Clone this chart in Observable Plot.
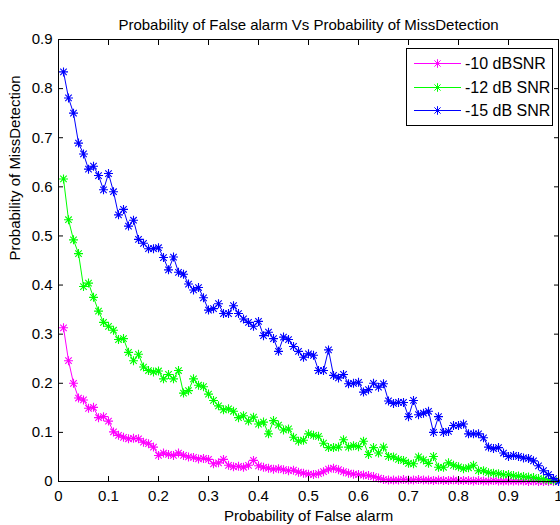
<!DOCTYPE html>
<html>
<head>
<meta charset="utf-8">
<script src="https://cdn.jsdelivr.net/npm/d3@7"></script>
<script src="https://cdn.jsdelivr.net/npm/@observablehq/plot@0.6"></script>
<style>
  html, body { margin: 0; padding: 0; background: #fff; }
  #wrap { position: relative; width: 560px; height: 525px; overflow: hidden; font-family: "Liberation Sans", Arial, sans-serif; }
  #legend { position: absolute; left: 406px; top: 48px; }
</style>
</head>
<body>
<div id="wrap"></div>
<script>
const pfa = [0.01,0.02,0.03,0.04,0.05,0.06,0.07,0.08,0.09,0.10,
  0.11,0.12,0.13,0.14,0.15,0.16,0.17,0.18,0.19,0.20,
  0.21,0.22,0.23,0.24,0.25,0.26,0.27,0.28,0.29,0.30,
  0.31,0.32,0.33,0.34,0.35,0.36,0.37,0.38,0.39,0.40,
  0.41,0.42,0.43,0.44,0.45,0.46,0.47,0.48,0.49,0.50,
  0.51,0.52,0.53,0.54,0.55,0.56,0.57,0.58,0.59,0.60,
  0.61,0.62,0.63,0.64,0.65,0.66,0.67,0.68,0.69,0.70,
  0.71,0.72,0.73,0.74,0.75,0.76,0.77,0.78,0.79,0.80,
  0.81,0.82,0.83,0.84,0.85,0.86,0.87,0.88,0.89,0.90,
  0.91,0.92,0.93,0.94,0.95,0.96,0.97,0.98,0.99,1.00];

const pmdMinus10 = [0.313,0.246,0.200,0.170,0.166,0.149,0.151,0.130,0.132,0.123,
  0.101,0.094,0.090,0.087,0.088,0.087,0.080,0.077,0.070,0.053,
  0.058,0.055,0.053,0.058,0.053,0.050,0.049,0.046,0.047,0.045,
  0.036,0.038,0.045,0.033,0.030,0.031,0.029,0.033,0.043,0.032,
  0.029,0.027,0.025,0.026,0.024,0.022,0.023,0.019,0.017,0.015,
  0.014,0.016,0.020,0.025,0.027,0.024,0.020,0.017,0.015,0.014,
  0.013,0.012,0.010,0.007,0.004,0.003,0.003,0.003,0.004,0.003,
  0.003,0.004,0.003,0.003,0.002,0.003,0.002,0.002,0.003,0.002,
  0.002,0.002,0.001,0.002,0.001,0.001,0.002,0.001,0.001,0.001,
  0.001,0.001,0.001,0.000,0.001,0.000,0.000,0.000,0.000,0.000];

const pmdMinus12 = [0.616,0.533,0.492,0.464,0.397,0.404,0.375,0.347,0.324,0.316,
  0.308,0.289,0.291,0.263,0.246,0.259,0.233,0.226,0.223,0.225,
  0.209,0.218,0.209,0.226,0.180,0.185,0.209,0.196,0.193,0.178,
  0.165,0.154,0.146,0.148,0.143,0.130,0.134,0.123,0.131,0.117,
  0.121,0.097,0.124,0.115,0.105,0.107,0.090,0.082,0.084,0.097,
  0.094,0.092,0.078,0.069,0.069,0.070,0.085,0.070,0.073,0.071,
  0.082,0.055,0.069,0.058,0.070,0.051,0.050,0.045,0.043,0.037,
  0.036,0.050,0.044,0.037,0.051,0.029,0.029,0.038,0.033,0.030,
  0.026,0.028,0.033,0.022,0.022,0.018,0.017,0.016,0.014,0.014,
  0.012,0.011,0.010,0.009,0.008,0.006,0.005,0.003,0.002,0.000];

const pmdMinus15 = [0.834,0.781,0.750,0.689,0.667,0.636,0.642,0.623,0.594,0.627,
  0.590,0.543,0.554,0.520,0.532,0.493,0.485,0.474,0.474,0.476,
  0.456,0.431,0.457,0.426,0.422,0.402,0.390,0.395,0.374,0.349,
  0.352,0.362,0.342,0.342,0.358,0.342,0.331,0.324,0.316,0.326,
  0.297,0.304,0.291,0.265,0.294,0.289,0.275,0.265,0.253,0.260,
  0.257,0.226,0.226,0.268,0.216,0.211,0.218,0.199,0.200,0.202,
  0.182,0.187,0.200,0.192,0.199,0.164,0.159,0.161,0.161,0.132,
  0.165,0.136,0.139,0.143,0.100,0.132,0.100,0.102,0.114,0.114,
  0.117,0.097,0.097,0.097,0.089,0.070,0.067,0.069,0.058,0.051,
  0.053,0.051,0.048,0.047,0.042,0.032,0.022,0.014,0.006,0.000];

const seriesNames = ["-10 dBSNR", "-12 dB SNR", "-15 dB SNR"];
const seriesColors = ["#ff00ff", "#00ff00", "#0000ff"];
const seriesValues = [pmdMinus10, pmdMinus12, pmdMinus15];

const xTicks = [0, 0.1, 0.2, 0.3, 0.4, 0.5, 0.6, 0.7, 0.8, 0.9, 1];
const xTickLabels = ["0", "0.1", "0.2", "0.3", "0.4", "0.5", "0.6", "0.7", "0.8", "0.9", "1"];
const yTicks = [0, 0.1, 0.2, 0.3, 0.4, 0.5, 0.6, 0.7, 0.8, 0.9];
const yTickLabels = ["0", "0.1", "0.2", "0.3", "0.4", "0.5", "0.6", "0.7", "0.8", "0.9"];

const titleText = "Probability of False alarm Vs Probability of MissDetection";
const xLabelText = "Probability of False alarm";
const yLabelText = "Probability of MissDetection";

// MATLAB-style "*" marker
const asterisk = {
  draw(ctx, size) {
    const r = Math.sqrt(size / Math.PI);
    const d = r * 0.72;
    ctx.moveTo(-r, 0); ctx.lineTo(r, 0);
    ctx.moveTo(0, -r); ctx.lineTo(0, r);
    ctx.moveTo(-d, -d); ctx.lineTo(d, d);
    ctx.moveTo(-d, d); ctx.lineTo(d, -d);
  }
};

const rows = [];
seriesValues.forEach((vals, s) => {
  vals.forEach((v, i) => rows.push({series: seriesNames[s], x: pfa[i], y: v}));
});

const FONT = "Liberation Sans, Arial, sans-serif";
const FS = 15;
const fmtX = d => xTickLabels[xTicks.indexOf(d)];
const fmtY = d => yTickLabels[yTicks.indexOf(d)];

const marks = [];
seriesNames.forEach((name, s) => {
  const data = rows.filter(d => d.series === name);
  marks.push(Plot.line(data, {x: "x", y: "y", stroke: seriesColors[s], strokeWidth: 1}));
  marks.push(Plot.dot(data, {x: "x", y: "y", stroke: seriesColors[s], fill: "none", symbol: asterisk, r: 4.5, strokeWidth: 1.1}));
});

const chart = Plot.plot({
  width: 560,
  height: 525,
  marginLeft: 58,
  marginRight: 2,
  marginTop: 39,
  marginBottom: 44,
  style: {fontFamily: FONT, fontSize: FS + "px", color: "#000", background: "#fff", overflow: "hidden"},
  x: {domain: [0, 1]},
  y: {domain: [0, 0.9]},
  marks: [
    ...marks,
    Plot.frame({stroke: "#000", strokeWidth: 1}),
    Plot.axisX({anchor: "bottom", ticks: xTicks, tickSize: -5, tickFormat: () => "", label: null, stroke: "#000"}),
    Plot.axisX({anchor: "top", ticks: xTicks, tickSize: -5, tickFormat: () => "", label: null, stroke: "#000"}),
    Plot.axisY({anchor: "left", ticks: yTicks, tickSize: -5, tickFormat: () => "", label: null, stroke: "#000"}),
    Plot.axisY({anchor: "right", ticks: yTicks, tickSize: -5, tickFormat: () => "", label: null, stroke: "#000"}),
    Plot.axisX({anchor: "bottom", ticks: xTicks, tickSize: 0, tickPadding: 9, tickFormat: fmtX, label: null, fontSize: FS, fill: "#000"}),
    Plot.axisY({anchor: "left", ticks: yTicks, tickSize: 0, tickPadding: 6, tickFormat: fmtY, label: null, fontSize: FS, fill: "#000"}),
    Plot.text([titleText], {frameAnchor: "top", dy: -20, fontSize: FS, fill: "#000"}),
    Plot.text([xLabelText], {frameAnchor: "bottom", dy: 39, fontSize: FS, fill: "#000"}),
    Plot.text([yLabelText], {frameAnchor: "left", dx: -43, rotate: -90, fontSize: FS, fill: "#000"})
  ]
});

const wrap = document.getElementById("wrap");
wrap.appendChild(chart);

// Legend box (top-right, inside axes)
const lw = 146, lh = 77;
const leg = d3.create("svg").attr("id", "legend").attr("width", lw + 1).attr("height", lh + 1);
leg.append("rect").attr("x", 0.5).attr("y", 0.5).attr("width", lw).attr("height", lh)
  .attr("fill", "#fff").attr("stroke", "#000");
const rowY = [15.5, 39.5, 62.5];
seriesNames.forEach((name, s) => {
  const g = leg.append("g").attr("transform", `translate(0,${rowY[s]})`);
  g.append("line").attr("x1", 8).attr("x2", 55).attr("y1", 0).attr("y2", 0)
    .attr("stroke", seriesColors[s]).attr("stroke-width", 1);
  const p = d3.path();
  asterisk.draw(p, Math.PI * 4.3 * 4.3);
  g.append("path").attr("d", p.toString()).attr("transform", "translate(31.5,0)")
    .attr("stroke", seriesColors[s]).attr("fill", "none");
  g.append("text").attr("x", 59).attr("y", 0).attr("dy", "0.35em")
    .attr("font-family", FONT).attr("font-size", 16).attr("fill", "#000").text(name);
});
wrap.appendChild(leg.node());
</script>
</body>
</html>
